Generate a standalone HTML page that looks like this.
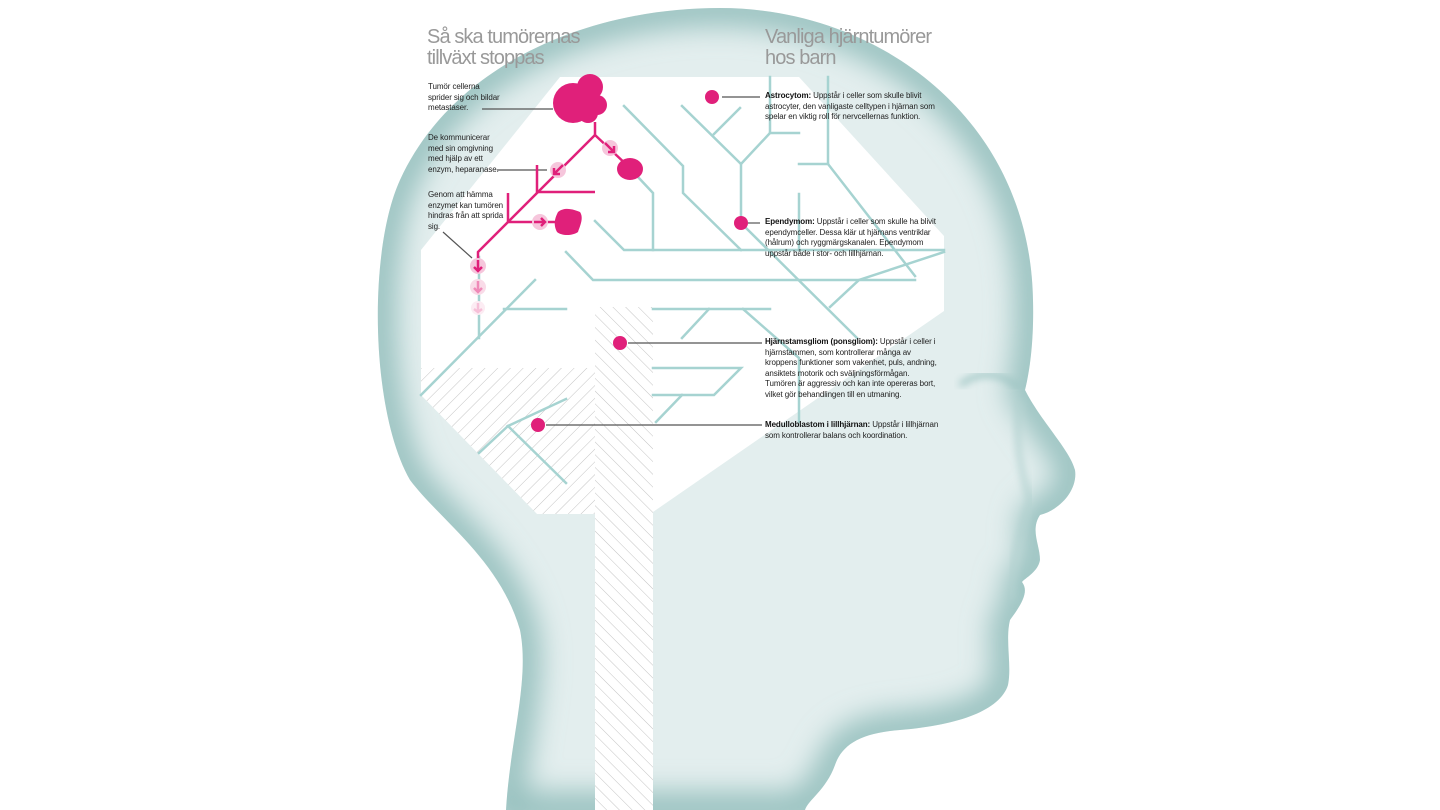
<!DOCTYPE html>
<html><head><meta charset="utf-8"><style>
html,body{margin:0;padding:0;background:#fff;}
body{width:1440px;height:810px;overflow:hidden;position:relative;font-family:"Liberation Sans",sans-serif;}
svg{position:absolute;left:0;top:0;}
.t{position:absolute;font-size:8px;line-height:10.6px;color:#222;letter-spacing:-0.1px;}
.t b{color:#111;}
.h{position:absolute;font-size:20px;line-height:21px;color:#999;letter-spacing:-0.9px;}
</style></head><body>
<svg width="1440" height="810" viewBox="0 0 1440 810">
<defs>
<clipPath id="hc"><path id="head" d="M720 8 C880 8 1030 120 1033 300 C1034 340 1030 370 1025 390 C1040 420 1070 450 1075 470 C1078 490 1060 510 1040 515 C1030 530 1040 545 1040 560 C1038 572 1025 578 1022 582 C1028 590 1025 600 1010 620 C1005 640 1012 665 1008 685 C1000 710 960 725 900 730 C860 733 842 745 835 765 C826 790 808 800 805 810 L506 810 C510 740 530 680 520 630 C500 560 440 520 410 480 C370 410 368 250 400 180 C450 70 580 8 720 8 Z"/></clipPath>
<filter id="b1" x="-20%" y="-20%" width="140%" height="140%"><feGaussianBlur stdDeviation="14"/></filter>
<filter id="b2"><feGaussianBlur stdDeviation="4"/></filter>
<pattern id="hs" width="9" height="9" patternUnits="userSpaceOnUse" patternTransform="rotate(45)"><line x1="0" y1="0" x2="0" y2="9" stroke="#c4c4c4" stroke-width="1"/></pattern>
<pattern id="hb" width="9" height="9" patternUnits="userSpaceOnUse" patternTransform="rotate(-45)"><line x1="0" y1="0" x2="0" y2="9" stroke="#c4c4c4" stroke-width="1"/></pattern>
</defs>
<g clip-path="url(#hc)">
<rect width="1440" height="810" fill="#e3eeee"/>
<use href="#head" fill="none" stroke="#8ab8b6" stroke-opacity="0.85" stroke-width="36" filter="url(#b1)"/>
<path d="M960 385 C980 370 1000 372 1020 388" stroke="#9cc4c2" stroke-width="5" fill="none" filter="url(#b2)"/>
<path d="M1020 400 C1015 440 1020 470 1030 500 C1020 540 1010 560 1012 600" stroke="#b3d2d0" stroke-width="5" fill="none" filter="url(#b2)"/>
</g>
<!-- white brain area -->
<path d="M560 77 L799 77 L944 236 L944 311 L653 512 L653 810 L595 810 L595 514 L537 514 L421 395 L421 250 Z" fill="#fff"/>
<path d="M421 368 L595 368 L595 514 L537 514 L421 395 Z" fill="url(#hs)"/>
<path d="M595 307 L653 307 L653 810 L595 810 Z" fill="url(#hb)"/>
<!-- teal network -->
<g stroke="#a6d3d1" stroke-width="2.5" fill="none" stroke-linecap="square">
<polyline points="624,106 683,166 683,193 741,250"/>
<polyline points="682,106 741,164 741,223"/>
<line x1="740" y1="108" x2="714" y2="134"/>
<polyline points="741,164 770,133 770,77"/>
<line x1="770" y1="133" x2="799" y2="133"/>
<polyline points="828,77 828,164 915,276"/>
<line x1="799" y1="164" x2="828" y2="164"/>
<polyline points="595,221 624,250 944,250"/>
<polyline points="638,177 653,193 653,250"/>
<line x1="799" y1="194" x2="799" y2="250"/>
<polyline points="566,252 593,280 915,280"/>
<line x1="741" y1="223" x2="857" y2="338"/>
<polyline points="944,252 859,280 830,307"/>
<line x1="504" y1="309" x2="566" y2="309"/>
<line x1="653" y1="309" x2="770" y2="309"/>
<line x1="535" y1="280" x2="421" y2="395"/>
<line x1="479" y1="257" x2="479" y2="338"/>
<line x1="682" y1="338" x2="709" y2="309"/>
<polyline points="743,309 799,358 799,422"/>
<polyline points="653,368 741,368 714,395 653,395"/>
<line x1="682" y1="395" x2="656" y2="422"/>
<polyline points="566,399 508,426 566,483"/>
<line x1="508" y1="426" x2="479" y2="453"/>
</g>
<!-- label lines -->
<g stroke="#555" stroke-width="1.2">
<line x1="482" y1="109" x2="553" y2="109"/>
<line x1="497" y1="170" x2="547" y2="170"/>
<line x1="443" y1="232" x2="472" y2="258"/>
<line x1="722" y1="97" x2="760" y2="97"/>
<line x1="748" y1="223" x2="760" y2="223"/>
<line x1="628" y1="343" x2="762" y2="343"/>
<line x1="546" y1="425" x2="762" y2="425"/>
</g>
<!-- pink tree -->
<g fill="#e0207a">
<circle cx="573" cy="103" r="20"/><circle cx="590" cy="87" r="13"/><circle cx="597" cy="105" r="10"/><circle cx="588" cy="113" r="10"/>
<ellipse cx="630" cy="169" rx="13" ry="11"/>
<path d="M558 212 C565 206 575 210 580 212 C584 218 580 226 578 232 C572 236 562 236 557 232 C553 224 555 218 558 212 Z"/>
<circle cx="712" cy="97" r="7"/><circle cx="741" cy="223" r="7"/><circle cx="620" cy="343" r="7"/><circle cx="538" cy="425" r="7"/>
</g>
<g stroke="#e0207a" stroke-width="2.5" fill="none">
<polyline points="595,122 595,135 630,168"/>
<polyline points="595,135 478,252 478,262"/>
<polyline points="537,165 537,192 595,192"/>
<polyline points="508,193 508,222 557,222"/>
</g>
<g>
<circle cx="610" cy="148" r="8" fill="#f6c6dc"/><path d="M605 143 L614 152 M614 146 L614 152 L608 152" stroke="#e0207a" stroke-width="2.5" fill="none"/>
<circle cx="558" cy="170" r="8" fill="#f6c6dc"/><path d="M563 165 L554 174 M554 168 L554 174 L560 174" stroke="#e0207a" stroke-width="2.5" fill="none"/>
<circle cx="540" cy="222" r="8" fill="#f6c6dc"/><path d="M534 222 L545 222 M541 218 L545 222 L541 226" stroke="#e0207a" stroke-width="2.5" fill="none"/>
<circle cx="478" cy="266" r="8" fill="#f6c6dc"/><path d="M478 260 L478 271 M474 267 L478 271 L482 267" stroke="#e0207a" stroke-width="2.5" fill="none"/>
<circle cx="478" cy="287" r="8" fill="#f9dbe8"/><path d="M478 281 L478 292 M474 288 L478 292 L482 288" stroke="#ef8ab8" stroke-width="2.5" fill="none"/>
<circle cx="478" cy="308" r="7" fill="#fcecf3"/><path d="M478 303 L478 312 M474 309 L478 312 L482 309" stroke="#f6c0d8" stroke-width="2.5" fill="none"/>
</g>
</svg>
<div class="h" style="left:427px;top:27px;">Så ska tumörernas<br>tillväxt stoppas</div>
<div class="h" style="left:765px;top:27px;">Vanliga hjärntumörer<br>hos barn</div>
<div class="t" style="left:428px;top:82px;">Tumör cellerna<br>sprider sig och bildar<br>metastaser.</div>
<div class="t" style="left:428px;top:133px;">De kommunicerar<br>med sin omgivning<br>med hjälp av ett<br>enzym, heparanase.</div>
<div class="t" style="left:428px;top:190px;">Genom att hämma<br>enzymet kan tumören<br>hindras från att sprida<br>sig.</div>
<div class="t" style="left:765px;top:91px;"><b>Astrocytom:</b> Uppstår i celler som skulle blivit<br>astrocyter, den vanligaste celltypen i hjärnan som<br>spelar en viktig roll för nervcellernas funktion.</div>
<div class="t" style="left:765px;top:217px;"><b>Ependymom:</b> Uppstår i celler som skulle ha blivit<br>ependymceller. Dessa klär ut hjärnans ventriklar<br>(hålrum) och ryggmärgskanalen. Ependymom<br>uppstår både i stor- och lillhjärnan.</div>
<div class="t" style="left:765px;top:337px;"><b>Hjärnstamsgliom (ponsgliom):</b> Uppstår i celler i<br>hjärnstammen, som kontrollerar många av<br>kroppens funktioner som vakenhet, puls, andning,<br>ansiktets motorik och sväljningsförmågan.<br>Tumören är aggressiv och kan inte opereras bort,<br>vilket gör behandlingen till en utmaning.</div>
<div class="t" style="left:765px;top:420px;"><b>Medulloblastom i lillhjärnan:</b> Uppstår i lillhjärnan<br>som kontrollerar balans och koordination.</div>
</body></html>
